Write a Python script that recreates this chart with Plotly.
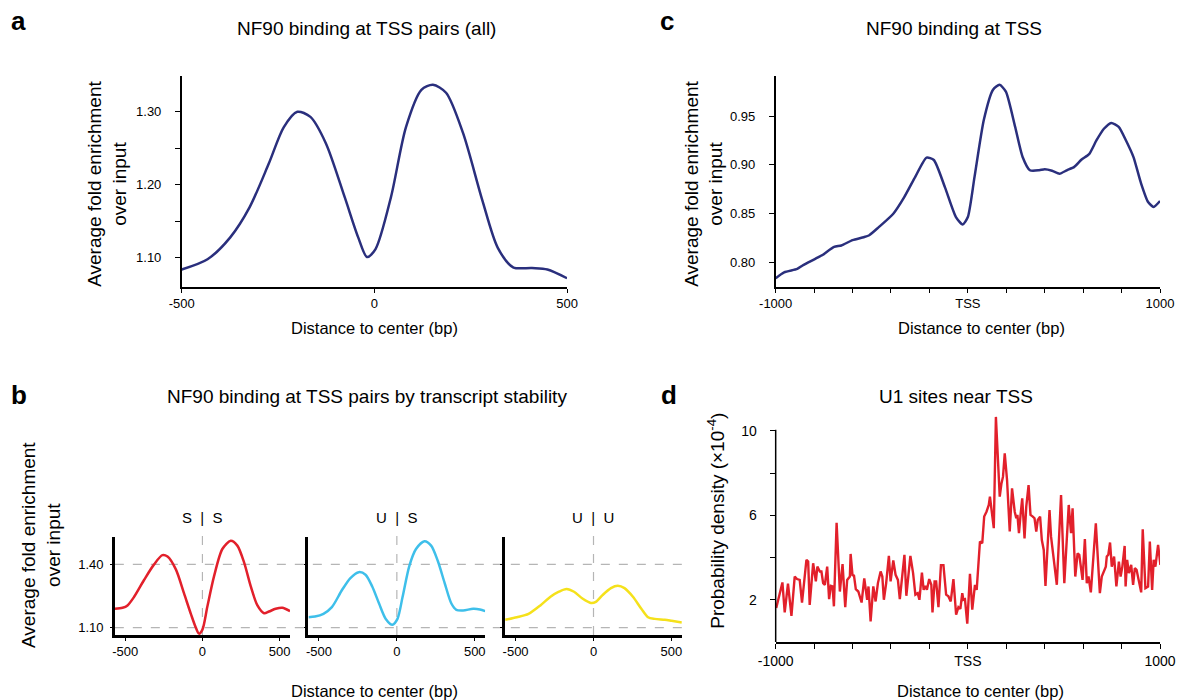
import plotly.graph_objects as go

W, H = 1183, 700
FONT = "Liberation Sans, Arial, Helvetica, sans-serif"
NAVY = "#2a2f7d"
RED = "#e2202b"
BLUE = "#3ebfea"
YELLOW = "#f5e11b"
GRAY = "#b5b5b5"

# ---------------- data ----------------
# panel a: NF90 binding at TSS pairs (all)
a_x = [-500, -433, -374, -324, -274, -235, -200, -166, -126, -77, -42, -19, 3,
       43, 82, 122, 152, 186, 230, 280, 320, 360, 409, 449, 500]
a_y = [1.084, 1.098, 1.128, 1.169, 1.229, 1.279, 1.300, 1.293, 1.257, 1.183, 1.128,
       1.101, 1.112, 1.183, 1.279, 1.330, 1.337, 1.326, 1.271, 1.179, 1.114, 1.087,
       1.086, 1.084, 1.072]

# panel c: NF90 binding at TSS
c_x = [-1000, -956, -888, -860, -792, -754, -696, -658, -600, -542, -513, -465, -388,
       -331, -273, -215, -177, -119, -62, -27, 0, 35, 83, 131, 165, 198, 246, 285, 323,
       371, 400, 438, 477, 515, 554, 592, 631, 669, 708, 746, 785, 823, 862, 900, 938,
       967, 1000]
c_y = [0.784, 0.790, 0.7935, 0.797, 0.804, 0.808, 0.816, 0.8175, 0.823, 0.826, 0.828,
       0.836, 0.850, 0.867, 0.888, 0.9075, 0.905, 0.877, 0.8466, 0.839, 0.8466, 0.888,
       0.946, 0.977, 0.982, 0.975, 0.939, 0.908, 0.8945, 0.8945, 0.8955, 0.894, 0.891,
       0.8945, 0.898, 0.9055, 0.911, 0.925, 0.937, 0.943, 0.939, 0.925, 0.908, 0.882,
       0.862, 0.857, 0.863]

# panel b: by transcript stability
b_groups = ["S  |  S", "U  |  S", "U  |  U"]
b_ss_x = [-567, -517, -485, -442, -377, -313, -259, -226, -172, -119, -75, -43, -22, 0,
          32, 75, 129, 183, 226, 270, 313, 356, 399, 431, 474, 517, 567]
b_ss_y = [1.189, 1.194, 1.205, 1.246, 1.327, 1.400, 1.444, 1.437, 1.376, 1.262, 1.165,
          1.100, 1.071, 1.090, 1.200, 1.343, 1.473, 1.512, 1.489, 1.408, 1.295, 1.205,
          1.168, 1.176, 1.189, 1.194, 1.178]
b_us_x = [-567, -525, -471, -417, -352, -298, -244, -201, -158, -114, -71, -28, 4, 37,
          80, 123, 177, 220, 263, 307, 350, 382, 425, 490, 533, 567]
b_us_y = [1.149, 1.152, 1.165, 1.197, 1.278, 1.335, 1.363, 1.351, 1.295, 1.214, 1.141,
          1.113, 1.141, 1.246, 1.392, 1.473, 1.510, 1.489, 1.416, 1.311, 1.214, 1.184,
          1.181, 1.189, 1.186, 1.178]
b_uu_x = [-567, -492, -417, -341, -276, -222, -173, -125, -71, -17, 15, 58, 112, 156,
          199, 253, 307, 350, 393, 458, 501, 567]
b_uu_y = [1.137, 1.149, 1.165, 1.205, 1.246, 1.270, 1.283, 1.270, 1.238, 1.217, 1.222,
          1.254, 1.287, 1.298, 1.287, 1.246, 1.189, 1.149, 1.141, 1.137, 1.132, 1.124]

# panel d: U1 sites near TSS (x10^-4)
d_x = [-997, -965, -953, -936, -918, -901, -889, -875, -863, -840, -831, -823, -805,
       -791, -783, -770, -762, -753, -744, -732, -722, -713, -704, -697, -683, -675,
       -666, -652, -638, -628, -614, -610, -600, -593, -583, -570, -553, -539, -524,
       -517, -506, -492, -480, -468, -454, -445, -437, -425, -411, -402, -388, -376,
       -364, -354, -342, -330, -320, -311, -299, -285, -273, -261, -252, -239, -230,
       -221, -213, -201, -190, -184, -173, -165, -153, -140, -127, -113, -101, -89,
       -75, -61, -49, -39, -29, -23, -15, -3, 11, 23, 37, 46, 63, 75, 85, 97, 109, 115,
       123, 135, 146, 158, 166, 175, 183, 192, 204, 218, 230, 244, 252, 258, 266, 275,
       283, 295, 304, 316, 326, 338, 347, 356, 364, 376, 385, 395, 404, 413, 425, 433,
       450, 463, 485, 502, 525, 537, 545, 559, 571, 580, 588, 597, 609, 619, 628, 640,
       666, 687, 697, 709, 718, 723, 731, 740, 749, 761, 773, 786, 795, 804, 816, 821,
       829, 838, 850, 860, 869, 878, 890, 902, 910, 924, 938, 947, 959, 967, 976, 990,
       1002, 1010]
d_y = [1.61, 2.82, 1.40, 2.76, 1.24, 3.10, 2.98, 2.94, 1.87, 3.89, 3.81, 1.76, 3.73,
       2.87, 3.57, 3.34, 3.34, 2.79, 2.71, 3.57, 2.03, 2.66, 2.63, 1.69, 5.65, 4.20,
       2.39, 3.69, 1.65, 2.94, 3.10, 4.17, 3.13, 3.18, 2.50, 2.39, 1.87, 3.01, 2.00,
       2.63, 0.98, 2.63, 1.92, 2.79, 3.34, 3.10, 2.00, 2.79, 4.08, 2.87, 3.86, 3.18,
       2.94, 2.03, 3.10, 4.13, 2.19, 3.10, 4.08, 3.26, 2.24, 2.31, 2.00, 3.29, 2.47,
       2.66, 2.47, 2.98, 2.71, 1.40, 2.87, 2.87, 1.65, 3.64, 3.64, 2.24, 2.16, 1.92,
       2.98, 1.29, 1.65, 1.57, 2.31, 2.00, 2.03, 0.87, 3.23, 1.53, 2.71, 2.47, 4.76,
       4.68, 5.94, 6.17, 6.49, 6.88, 6.25, 5.39, 10.66, 8.46, 6.88, 7.51, 7.83, 8.93,
       7.67, 5.23, 7.28, 6.17, 5.86, 6.02, 5.15, 6.09, 6.80, 4.91, 6.41, 7.43, 6.02,
       5.94, 5.86, 5.23, 5.78, 5.94, 4.83, 4.36, 2.66, 4.20, 6.25, 4.99, 3.57, 2.71,
       6.96, 2.79, 6.49, 5.15, 6.33, 3.10, 4.20, 4.13, 3.57, 2.94, 4.87, 2.79, 3.10,
       2.35, 5.62, 2.31, 3.10, 3.34, 3.57, 4.05, 4.13, 4.71, 3.57, 4.05, 2.63, 3.81,
       3.10, 3.57, 4.55, 2.63, 3.89, 3.26, 3.65, 2.71, 3.50, 3.42, 2.79, 2.35, 5.34,
       2.55, 2.63, 4.76, 2.47, 3.89, 3.57, 4.60, 3.65, 3.97]

# tick labels
a_ticks = [-500, 0, 500]
a_yticks = [1.10, 1.15, 1.20, 1.25, 1.30]
a_ytext = ["1.10", " ", "1.20", " ", "1.30"]
c_ticks = [-1000, -800, -600, -400, -200, 0, 200, 400, 600, 800, 1000]
c_text = ["-1000", " ", " ", " ", " ", "TSS", " ", " ", " ", " ", "1000"]
c_yticks = [0.80, 0.85, 0.90, 0.95]
b_yticks = [1.10, 1.40]
d_yticks = [2, 4, 6, 8, 10]
d_ytext = ["2", " ", "6", " ", "10"]

# horizontal placement calibration (observed picture vs page coordinates)
X0, XW = 18.0, 1151.0


def px(x):
    return (x - X0) / XW


def py(y):
    return 1 - y / H


def axis(domain, rng, tickvals, ticktext, anchor, lw=1.5, showline=True,
         fs=13, ticklen=5, showlabels=True, standoff=None):
    d = dict(domain=domain, range=rng, tickmode="array", tickvals=tickvals,
             ticktext=ticktext, anchor=anchor, showline=showline, linecolor="black",
             linewidth=lw, ticks="outside", ticklen=ticklen, tickwidth=1.3,
             tickcolor="black", showgrid=False, zeroline=False,
             showticklabels=showlabels, ticklabeloverflow="allow",
             tickfont=dict(size=fs, color="black", family=FONT), fixedrange=True)
    if standoff is not None:
        d["ticklabelstandoff"] = standoff
    return d


fig = go.Figure()

# panel a
fig.add_trace(go.Scatter(x=a_x, y=a_y, xaxis="x", yaxis="y", mode="lines",
                         line=dict(color=NAVY, width=2.5, shape="spline", smoothing=0.8)))
# panel c
fig.add_trace(go.Scatter(x=c_x, y=c_y, xaxis="x2", yaxis="y2", mode="lines",
                         line=dict(color=NAVY, width=2.5, shape="spline", smoothing=0.6)))
# panel b
for xs, ys, col, xa, ya in [(b_ss_x, b_ss_y, RED, "x3", "y3"),
                            (b_us_x, b_us_y, BLUE, "x4", "y4"),
                            (b_uu_x, b_uu_y, YELLOW, "x5", "y5")]:
    fig.add_trace(go.Scatter(x=xs, y=ys, xaxis=xa, yaxis=ya, mode="lines",
                             line=dict(color=col, width=2.5, shape="spline", smoothing=0.8)))
# panel d
fig.add_trace(go.Scatter(x=d_x, y=d_y, xaxis="x6", yaxis="y6", mode="lines",
                         line=dict(color=RED, width=2.4)))

# domains
a_xd = [px(182), px(568)]
top_yd = [py(287), py(76)]
c_xd = [px(777), px(1162)]
b_yd = [py(635), py(537)]
b_xds = [[px(115), px(290.5)], [px(309), px(486)], [px(506), px(683)]]
d_yd = [py(642), py(415)]
d_range = [0, 10.75]

layout = dict(
    width=W, height=H, margin=dict(l=0, r=0, t=0, b=0),
    paper_bgcolor="white", plot_bgcolor="white", showlegend=False,
    font=dict(family=FONT, color="black"),
    xaxis=axis(a_xd, [-500, 500], a_ticks, [str(v) for v in a_ticks], "y",
               ticklen=4, standoff=0),
    yaxis=axis(top_yd, [1.060, 1.349], a_yticks, a_ytext, "x", standoff=11),
    xaxis2=axis(c_xd, [-1000, 1000], c_ticks, c_text, "y2", ticklen=4, standoff=0),
    yaxis2=axis(top_yd, [0.775, 0.991], c_yticks, ["0.80", "0.85", "0.90", "0.95"], "x2",
                standoff=11),
    xaxis6=axis(c_xd, [-1000, 1000], c_ticks, c_text, "y6", fs=14, standoff=0),
    yaxis6=axis(d_yd, d_range, d_yticks, d_ytext, "x6", showline=False, fs=14, standoff=10),
)
for i, xd in enumerate(b_xds):
    n = i + 3
    layout[f"xaxis{n}"] = axis(xd, [-567, 567], a_ticks, [str(v) for v in a_ticks],
                               f"y{n}", lw=2.5, ticklen=3, standoff=0)
    layout[f"yaxis{n}"] = axis(b_yd, [1.0645, 1.53], b_yticks, ["1.10", "1.40"],
                               f"x{n}", lw=2.5, ticklen=2, showlabels=(i == 0), standoff=4)
fig.update_layout(**layout)

shapes = []
# panel b dashed guides
for v in b_yticks:
    shapes.append(dict(type="line", xref="paper", yref="y3", x0=px(115), x1=px(683),
                       y0=v, y1=v, layer="below",
                       line=dict(color=GRAY, width=1.2, dash="dash")))
for n in (3, 4, 5):
    shapes.append(dict(type="line", xref=f"x{n}", yref=f"y{n} domain", x0=0, x1=0,
                       y0=0, y1=1.02, layer="below",
                       line=dict(color=GRAY, width=1.2, dash="dash")))
# panel d y-axis line (stops at 10)
d_top = d_yd[0] + (d_yd[1] - d_yd[0]) * (10.05 - d_range[0]) / (d_range[1] - d_range[0])
shapes.append(dict(type="line", xref="paper", yref="paper", x0=c_xd[0], x1=c_xd[0],
                   y0=d_yd[0], y1=d_top, line=dict(color="black", width=1.5)))
fig.update_layout(shapes=shapes)

ann = []


def text(x, y, s, size, bold=False, angle=0):
    ann.append(dict(x=px(x), y=py(y), xref="paper", yref="paper", text=s,
                    showarrow=False, xanchor="center", yanchor="middle",
                    textangle=angle,
                    font=dict(size=size, family=FONT, color="black",
                              weight="bold" if bold else "normal")))


# panel letters
text(19, 21, "a", 26, bold=True)
text(668, 21, "c", 26, bold=True)
text(19, 395, "b", 26, bold=True)
text(670, 395, "d", 26, bold=True)
# titles
text(367, 29, "NF90 binding at TSS pairs (all)", 19)
text(956, 29, "NF90 binding at TSS", 19)
text(368, 396, "NF90 binding at TSS pairs by transcript stability", 19)
text(958, 396, "U1 sites near TSS", 19)
# x titles
text(375, 328, "Distance to center (bp)", 16.5)
text(983, 328, "Distance to center (bp)", 16.5)
text(375, 691, "Distance to center (bp)", 16.5)
text(982, 691, "Distance to center (bp)", 16.5)
# y titles
text(107, 184, "Average fold enrichment<br>over input", 19, angle=-90)
text(705, 184, "Average fold enrichment<br>over input", 19, angle=-90)
text(41, 545, "Average fold enrichment<br>over input", 19, angle=-90)
text(717, 521, "Probability density (×10<sup>-4</sup>)", 19, angle=-90)
# panel b subgroup labels
for xd, lab in zip([203, 397.5, 594.5], b_groups):
    text(xd, 517, lab, 15)

fig.update_layout(annotations=ann)
fig.write_html(
    "out.html",
    config={"displayModeBar": False},
    post_script=(
        "document.body.style.margin='0';document.body.style.overflow='hidden';"
        "document.querySelectorAll('svg.main-svg').forEach(function(s){"
        "s.style.overflow='visible';});"
    ),
)
